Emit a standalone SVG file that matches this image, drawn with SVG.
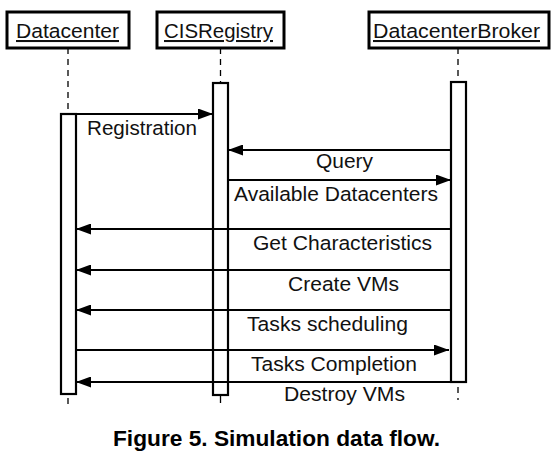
<svg xmlns="http://www.w3.org/2000/svg" width="553" height="459" viewBox="0 0 553 459">
<style>
.hdr{fill:#fff;stroke:#000;stroke-width:3}
.txt{font-family:"Liberation Sans",Arial,sans-serif;font-size:20.5px;fill:#111}
.ul{text-decoration:underline}
.life{stroke:#000;stroke-width:1.3;stroke-dasharray:6,5;fill:none}
.act{fill:#fff;stroke:#000;stroke-width:2.2}
.msg{stroke:#000;stroke-width:2.2;fill:none;marker-end:url(#ah)}
.cap{font-family:"Liberation Sans",Arial,sans-serif;font-size:22px;font-weight:bold;fill:#000}
</style>
<defs>
<marker id="ah" markerUnits="userSpaceOnUse" markerWidth="15" markerHeight="11" refX="15" refY="5.5" orient="auto">
<path d="M0,0 L15,5.5 L0,11 z" fill="#000"/>
</marker>
</defs>
<rect width="553" height="459" fill="#fff"/>
<g id="lifelines">
<line class="life" x1="68" y1="48" x2="68" y2="114"/>
<line class="life" x1="68" y1="398" x2="68" y2="404"/>
<line class="life" x1="220.5" y1="48" x2="220.5" y2="83"/>
<line x1="220.5" y1="395" x2="220.5" y2="403" stroke="#000" stroke-width="1.3"/>
<line class="life" x1="458" y1="48" x2="458" y2="82"/>
<line class="life" x1="458" y1="387" x2="458" y2="400"/>
</g>
<g id="datacenter">
<rect class="hdr" x="7" y="12" width="122" height="36"/>
<text class="txt ul" x="16" y="38" textLength="103" lengthAdjust="spacingAndGlyphs">Datacenter</text>
<rect class="act" x="61" y="114" width="15" height="280"/>
</g>
<g id="cisregistry">
<rect class="hdr" x="157" y="12" width="127" height="36"/>
<text class="txt ul" x="164" y="38" textLength="109" lengthAdjust="spacingAndGlyphs">CISRegistry</text>
<rect class="act" x="213" y="83" width="15" height="312"/>
</g>
<g id="broker">
<rect class="hdr" x="369" y="12" width="180" height="36"/>
<text class="txt ul" x="373" y="38" textLength="167" lengthAdjust="spacingAndGlyphs">DatacenterBroker</text>
<rect class="act" x="451" y="82" width="15" height="300"/>
</g>
<g id="connectors">
<line class="msg" x1="76" y1="114" x2="213" y2="114"/>
<line class="msg" x1="451" y1="150" x2="228" y2="150"/>
<line class="msg" x1="228" y1="180" x2="451" y2="180"/>
<line class="msg" x1="451" y1="229" x2="76" y2="229"/>
<line class="msg" x1="451" y1="270" x2="76" y2="270"/>
<line class="msg" x1="451" y1="310" x2="76" y2="310"/>
<line class="msg" x1="76" y1="350" x2="449" y2="350"/>
<line class="msg" x1="451" y1="382" x2="76" y2="382"/>
</g>
<g id="labels">
<text class="txt" x="87" y="135" textLength="110" lengthAdjust="spacingAndGlyphs">Registration</text>
<text class="txt" x="316" y="168" textLength="57" lengthAdjust="spacingAndGlyphs">Query</text>
<text class="txt" x="234" y="201" textLength="204" lengthAdjust="spacingAndGlyphs">Available Datacenters</text>
<text class="txt" x="253" y="250" textLength="179" lengthAdjust="spacingAndGlyphs">Get Characteristics</text>
<text class="txt" x="288" y="291" textLength="111" lengthAdjust="spacingAndGlyphs">Create VMs</text>
<text class="txt" x="247" y="331" textLength="161" lengthAdjust="spacingAndGlyphs">Tasks scheduling</text>
<text class="txt" x="251" y="371" textLength="166" lengthAdjust="spacingAndGlyphs">Tasks Completion</text>
<text class="txt" x="284" y="401" textLength="121" lengthAdjust="spacingAndGlyphs">Destroy VMs</text>
</g>
<text class="cap" x="113" y="446" textLength="327" lengthAdjust="spacingAndGlyphs">Figure 5. Simulation data flow.</text>
</svg>
